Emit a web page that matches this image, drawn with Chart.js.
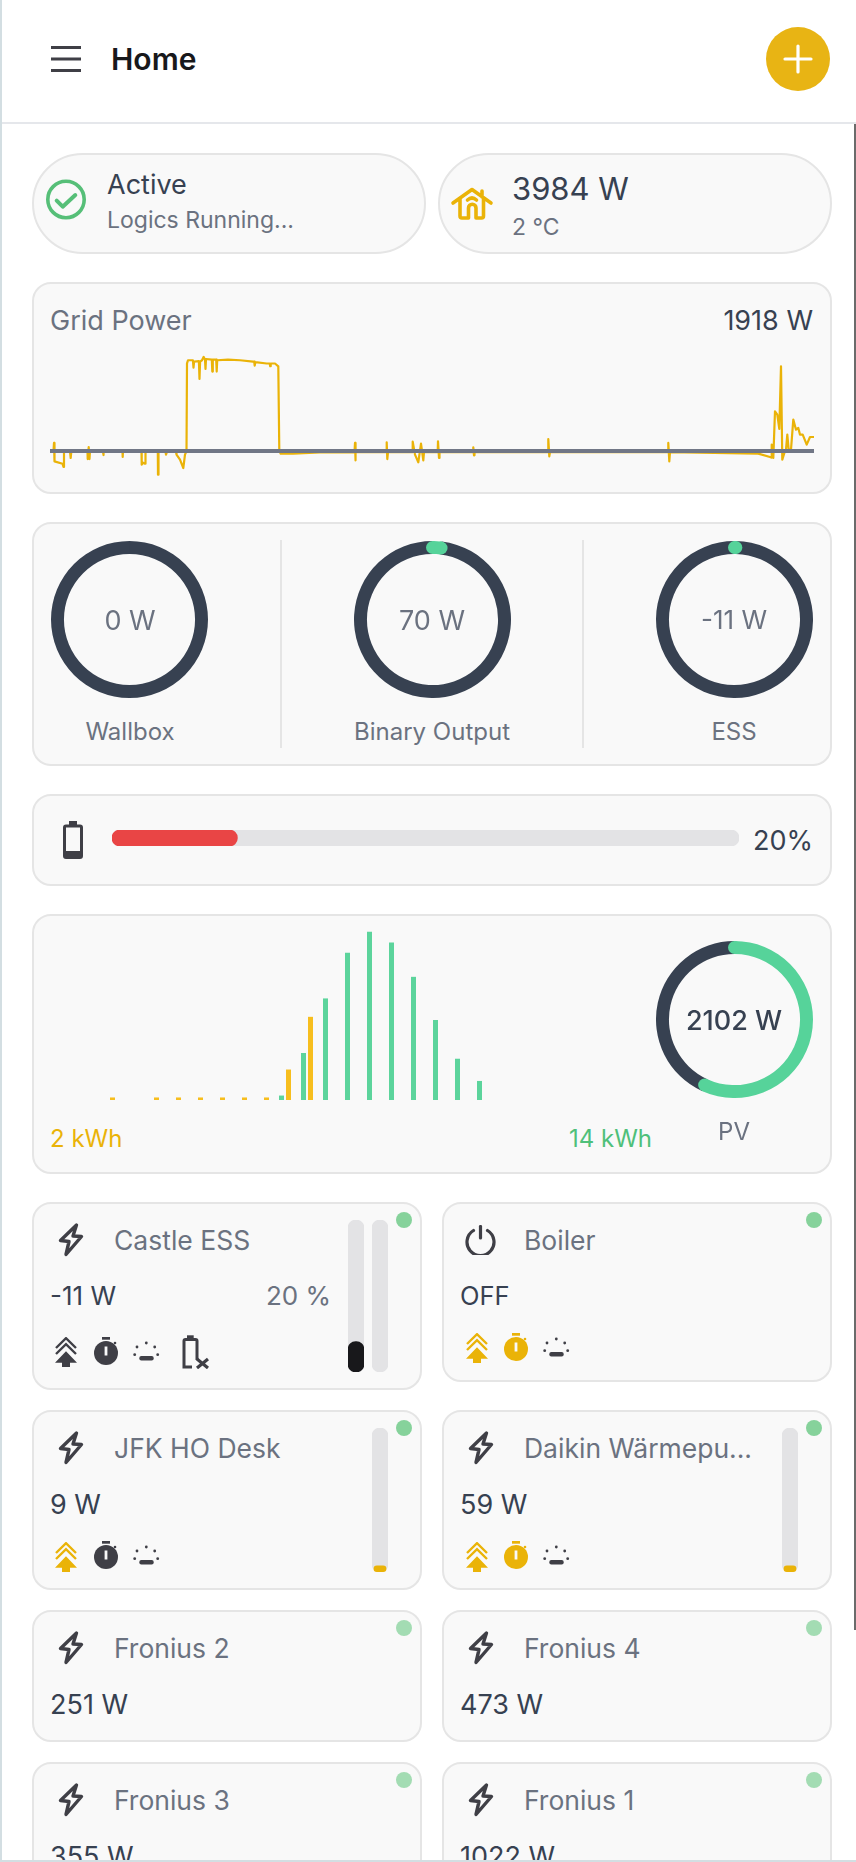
<!DOCTYPE html>
<html>
<head>
<meta charset="utf-8">
<title>Home</title>
<script src="https://cdn.jsdelivr.net/npm/chart.js@4/dist/chart.umd.min.js"></script>
<style>
  html, body { margin: 0; padding: 0; background: #fff; }
  body { width: 856px; height: 1862px; overflow: hidden; position: relative; font-family: Inter, sans-serif; color: #374151; }
  .abs, .card, .txt, canvas, svg.ic { position: absolute; }
  .card { box-sizing: border-box; background: #f9f9f9; border: 2px solid #e5e5e5; border-radius: 19px; }
  .pill { border-radius: 51px; }
  .txt { white-space: nowrap; line-height: 1; transform: translateY(-50%); }
  .mid { transform: translate(-50%, -50%); }
  .right { transform: translate(-100%, -50%); }
  .gray { color: #6b7280; }
  .dot { position: absolute; width: 16px; height: 16px; border-radius: 50%; }
  svg.ic { overflow: visible; }
</style>
</head>
<body>
<svg width="0" height="0" style="position:absolute">
  <symbol id="bolt" viewBox="0 0 26 34"><path d="M18.5 2 L2.5 17.5 L11 18.5 L8 31.5 L23.5 13.5 L15 13 Z" fill="none" stroke="currentColor" stroke-width="3.4" stroke-linejoin="round"/></symbol>
  <symbol id="power" viewBox="0 0 31 30"><path d="M15.5 1.5 V13" fill="none" stroke="currentColor" stroke-width="3.2" stroke-linecap="round"/><path d="M8.5 5.5 A13.5 13.5 0 1 0 22.5 5.5" fill="none" stroke="currentColor" stroke-width="3.2" stroke-linecap="round"/></symbol>
  <symbol id="tree" viewBox="0 0 22 30"><path d="M1 11 L11 1.2 L21 11 M1 17 L11 7.2 L21 17" fill="none" stroke="currentColor" stroke-width="2.4"/><path d="M11 14.3 L22 25.7 H15 V30 H7 V25.7 H0 Z" fill="currentColor"/></symbol>
  <symbol id="watch" viewBox="0 0 24 29"><rect x="8" y="0" width="8" height="2.7" fill="currentColor"/><circle cx="21" cy="6" r="1.3" fill="currentColor"/><circle cx="12" cy="16" r="12" fill="currentColor"/><rect x="10.6" y="9.5" width="2.8" height="9" fill="#f9f9f9"/></symbol>
  <symbol id="dawn" viewBox="0 0 27 20"><rect x="6.3" y="15" width="14.4" height="4.4" rx="2" fill="currentColor"/><g fill="currentColor"><circle cx="13.3" cy="2" r="1.4"/><circle cx="4" cy="6" r="1.4"/><circle cx="21.7" cy="6" r="1.4"/><circle cx="1.7" cy="13.7" r="1.4"/><circle cx="24.7" cy="13.7" r="1.4"/></g></symbol>
  <symbol id="battx" viewBox="0 0 27 34"><path d="M5 0.3 H11.7 V5 H5 Z" fill="currentColor"/><path d="M15 25 V6 A1.5 1.5 0 0 0 13.5 4.5 H3.5 A1.5 1.5 0 0 0 2 6 V32 H10" fill="none" stroke="currentColor" stroke-width="3"/><path d="M15 24 L26 33 M26 24 L15 33" stroke="currentColor" stroke-width="3.2" fill="none"/></symbol>
  <symbol id="batt" viewBox="0 0 20 38"><rect x="6" y="0" width="8" height="5" fill="currentColor"/><rect x="1.5" y="5" width="17" height="31.5" rx="1.5" fill="none" stroke="currentColor" stroke-width="3"/><rect x="1.5" y="30" width="17" height="7" rx="1" fill="currentColor"/></symbol>
</svg>

<!-- page edges -->
<div class="abs" style="left:0;top:0;width:2px;height:1862px;background:#d3dee2"></div>
<div class="abs" style="left:854px;top:123px;width:2px;height:1507px;background:#6b6b6b"></div>
<div class="abs" style="left:2px;top:122px;width:854px;height:2px;background:#e5e7eb"></div>

<!-- header -->
<svg class="ic" style="left:51px;top:45px" width="30" height="28"><path d="M0 2.5 H30 M0 14 H30 M0 25.5 H30" stroke="#3f3f46" stroke-width="2.8"/></svg>
<div class="txt" style="left:111px;top:59px;font-size:30px;font-weight:600;color:#18181b">Home</div>
<div class="abs" style="left:766px;top:27px;width:64px;height:64px;border-radius:50%;background:#e8b414"></div>
<svg class="ic" style="left:785px;top:46px" width="26" height="26"><path d="M13 0 V26 M0 13 H26" stroke="#fff" stroke-width="3.2" stroke-linecap="round"/></svg>

<!-- status pills -->
<div class="card pill" style="left:32px;top:153px;width:394px;height:101px"></div>
<div class="card pill" style="left:438px;top:153px;width:394px;height:101px"></div>
<svg class="ic" style="left:46px;top:180px" width="40" height="40"><circle cx="20" cy="19.5" r="18.2" fill="none" stroke="#56bf78" stroke-width="3.6"/><path d="M10.7 20.7 L16.7 26.7 L29.3 15" fill="none" stroke="#56bf78" stroke-width="4" stroke-linejoin="round" stroke-linecap="round"/></svg>
<div class="txt" style="left:107px;top:184px;font-size:27px;color:#374151">Active</div>
<div class="txt gray" style="left:107px;top:220px;font-size:23px">Logics Running...</div>
<svg class="ic" style="left:451px;top:187px" width="42" height="34"><path d="M2 16 L21 2.5 L40 16 M9 12 V29 Q9 31 11 31 H17.5 V21 A3.7 3.7 0 0 1 25 21 V31 H30.5 Q32.5 31 32.5 29 V12 M31 10 V4 M16.5 13 Q21 9 25.5 13" fill="none" stroke="#eab308" stroke-width="3.6" stroke-linejoin="round" stroke-linecap="round"/></svg>
<div class="txt" style="left:512px;top:188px;font-size:31px">3984 W</div>
<div class="txt gray" style="left:512px;top:227px;font-size:23px">2 °C</div>

<!-- grid power -->
<div class="card" style="left:32px;top:282px;width:800px;height:212px"></div>
<div class="txt gray" style="left:50px;top:320px;font-size:27px">Grid Power</div>
<div class="txt" id="gridNow" style="left:813px;top:320px;font-size:27px;transform:translate(-100%,-50%)"></div>
<canvas id="gridChart" style="left:50px;top:340px;width:764px;height:150px" width="764" height="150"></canvas>

<!-- gauges -->
<div class="card" style="left:32px;top:522px;width:800px;height:244px"></div>
<div class="abs" style="left:280px;top:540px;width:2px;height:208px;background:#e5e5e5"></div>
<div class="abs" style="left:582px;top:540px;width:2px;height:208px;background:#e5e5e5"></div>
<canvas id="gaugeWallbox" style="left:51px;top:541px;width:157px;height:157px" width="157" height="157"></canvas>
<canvas id="gaugeBinary" style="left:354px;top:541px;width:157px;height:157px" width="157" height="157"></canvas>
<canvas id="gaugeEss" style="left:656px;top:541px;width:157px;height:157px" width="157" height="157"></canvas>
<div class="txt gray mid" style="left:130px;top:620px;font-size:27px">0 W</div>
<div class="txt gray mid" style="left:432px;top:620px;font-size:27px">70 W</div>
<div class="txt gray mid" style="left:734px;top:620px;font-size:26px">-11 W</div>
<div class="txt gray mid" style="left:130px;top:732px;font-size:24px">Wallbox</div>
<div class="txt gray mid" style="left:432px;top:732px;font-size:24px">Binary Output</div>
<div class="txt gray mid" style="left:734px;top:732px;font-size:24px">ESS</div>

<!-- battery -->
<div class="card" style="left:32px;top:794px;width:800px;height:92px"></div>
<svg class="ic" style="left:63px;top:821px;color:#3f3f46" width="20" height="38"><use href="#batt"/></svg>
<canvas id="batteryBar" style="left:112px;top:830px;width:627px;height:16px" width="627" height="16"></canvas>
<div class="txt right" style="left:813px;top:840px;font-size:27px">20%</div>

<!-- pv -->
<div class="card" style="left:32px;top:914px;width:800px;height:260px"></div>
<canvas id="pvBars" style="left:98px;top:920px;width:528px;height:180px" width="528" height="180"></canvas>
<canvas id="gaugePv" style="left:656px;top:941px;width:157px;height:157px" width="157" height="157"></canvas>
<div class="txt mid" style="left:734px;top:1020px;font-size:27px;font-weight:500">2102 W</div>
<div class="txt gray mid" style="left:734px;top:1132px;font-size:24px">PV</div>
<div class="txt" style="left:50px;top:1139px;font-size:24px;color:#eab308">2 kWh</div>
<div class="txt" style="left:569px;top:1139px;font-size:24px;color:#4fc07a">14 kWh</div>

<!-- devices -->
<div class="card" style="left:32px;top:1202px;width:390px;height:188px"></div>
<div class="card" style="left:442px;top:1202px;width:390px;height:180px"></div>
<div class="card" style="left:32px;top:1410px;width:390px;height:180px"></div>
<div class="card" style="left:442px;top:1410px;width:390px;height:180px"></div>
<div class="card" style="left:32px;top:1610px;width:390px;height:132px"></div>
<div class="card" style="left:442px;top:1610px;width:390px;height:132px"></div>
<div class="card" style="left:32px;top:1762px;width:390px;height:132px"></div>
<div class="card" style="left:442px;top:1762px;width:390px;height:132px"></div>

<div class="dot" style="left:396px;top:1212px;background:#86d29b"></div>
<div class="dot" style="left:806px;top:1212px;background:#86d29b"></div>
<div class="dot" style="left:396px;top:1420px;background:#86d29b"></div>
<div class="dot" style="left:806px;top:1420px;background:#86d29b"></div>
<div class="dot" style="left:396px;top:1620px;background:#a3dcb3"></div>
<div class="dot" style="left:806px;top:1620px;background:#a3dcb3"></div>
<div class="dot" style="left:396px;top:1772px;background:#a3dcb3"></div>
<div class="dot" style="left:806px;top:1772px;background:#a3dcb3"></div>

<svg class="ic" style="left:58px;top:1223px;color:#3f3f46" width="26" height="34"><use href="#bolt"/></svg>
<svg class="ic" style="left:465px;top:1225px;color:#3f3f46" width="31" height="30"><use href="#power"/></svg>
<svg class="ic" style="left:58px;top:1431px;color:#3f3f46" width="26" height="34"><use href="#bolt"/></svg>
<svg class="ic" style="left:468px;top:1431px;color:#3f3f46" width="26" height="34"><use href="#bolt"/></svg>
<svg class="ic" style="left:58px;top:1631px;color:#3f3f46" width="26" height="34"><use href="#bolt"/></svg>
<svg class="ic" style="left:468px;top:1631px;color:#3f3f46" width="26" height="34"><use href="#bolt"/></svg>
<svg class="ic" style="left:58px;top:1783px;color:#3f3f46" width="26" height="34"><use href="#bolt"/></svg>
<svg class="ic" style="left:468px;top:1783px;color:#3f3f46" width="26" height="34"><use href="#bolt"/></svg>

<div class="txt gray" style="left:114px;top:1240px;font-size:26.5px">Castle ESS</div>
<div class="txt gray" style="left:524px;top:1240px;font-size:26.5px">Boiler</div>
<div class="txt gray" style="left:114px;top:1448px;font-size:26.5px">JFK HO Desk</div>
<div class="txt gray" style="left:524px;top:1448px;font-size:26.5px">Daikin Wärmepu...</div>
<div class="txt gray" style="left:114px;top:1648px;font-size:26.5px">Fronius 2</div>
<div class="txt gray" style="left:524px;top:1648px;font-size:26.5px">Fronius 4</div>
<div class="txt gray" style="left:114px;top:1800px;font-size:26.5px">Fronius 3</div>
<div class="txt gray" style="left:524px;top:1800px;font-size:26.5px">Fronius 1</div>

<div class="txt" style="left:50px;top:1296px;font-size:26px">-11 W</div>
<div class="txt gray right" style="left:331px;top:1296px;font-size:26px">20 %</div>
<div class="txt" style="left:460px;top:1296px;font-size:25.5px">OFF</div>
<div class="txt" style="left:50px;top:1504px;font-size:27px">9 W</div>
<div class="txt" style="left:460px;top:1504px;font-size:27px">59 W</div>
<div class="txt" style="left:50px;top:1704px;font-size:27px">251 W</div>
<div class="txt" style="left:460px;top:1704px;font-size:27px">473 W</div>
<div class="txt" style="left:50px;top:1856px;font-size:27px">355 W</div>
<div class="txt" style="left:460px;top:1856px;font-size:27px">1022 W</div>

<!-- bottom edge, covers the cut off last row -->
<div class="abs" style="left:0;top:1860px;width:856px;height:2px;background:#d3dee2"></div>

<svg class="ic" style="left:55px;top:1337px;color:#3f3f46" width="22" height="30"><use href="#tree"/></svg>
<svg class="ic" style="left:94px;top:1337px;color:#3f3f46" width="24" height="29"><use href="#watch"/></svg>
<svg class="ic" style="left:133px;top:1341px;color:#3f3f46" width="27" height="20"><use href="#dawn"/></svg>
<svg class="ic" style="left:182px;top:1335px;color:#3f3f46" width="27" height="34"><use href="#battx"/></svg>

<svg class="ic" style="left:466px;top:1333px;color:#eab308" width="22" height="30"><use href="#tree"/></svg>
<svg class="ic" style="left:504px;top:1333px;color:#eab308" width="24" height="29"><use href="#watch"/></svg>
<svg class="ic" style="left:543px;top:1337px;color:#3f3f46" width="27" height="20"><use href="#dawn"/></svg>

<svg class="ic" style="left:55px;top:1542px;color:#eab308" width="22" height="30"><use href="#tree"/></svg>
<svg class="ic" style="left:94px;top:1541px;color:#3f3f46" width="24" height="29"><use href="#watch"/></svg>
<svg class="ic" style="left:133px;top:1545px;color:#3f3f46" width="27" height="20"><use href="#dawn"/></svg>

<svg class="ic" style="left:466px;top:1542px;color:#eab308" width="22" height="30"><use href="#tree"/></svg>
<svg class="ic" style="left:504px;top:1541px;color:#eab308" width="24" height="29"><use href="#watch"/></svg>
<svg class="ic" style="left:543px;top:1545px;color:#3f3f46" width="27" height="20"><use href="#dawn"/></svg>

<canvas id="essSoc" style="left:348px;top:1220px;width:16px;height:152px" width="16" height="152"></canvas>
<canvas id="essLoad" style="left:372px;top:1220px;width:16px;height:152px" width="16" height="152"></canvas>
<canvas id="deskLoad" style="left:372px;top:1428px;width:16px;height:144px" width="16" height="144"></canvas>
<canvas id="daikinLoad" style="left:782px;top:1428px;width:16px;height:144px" width="16" height="144"></canvas>

<script>
// grid power trace, slot = about 1.9 min, values in W
const gridSlots = [
  0, 3.5, 4, 4.5, 12.5, 13.5, 14, 20, 20.7, 21.3, 37.5, 37.7, 38.7, 39.5, 40, 53, 53.3, 53.8, 72.5, 72.7, 73,
  91.5, 91.7, 93, 95, 95.5, 107.8, 108, 108.5, 115.5, 116, 117, 126, 126.5, 130, 133.3, 135, 136.5,
  137, 138, 142.9, 143.5, 144.1, 148.9, 149.5, 150.1, 152, 153.7, 155, 155.5, 156, 161.8, 162.3, 162.8,
  166.2, 166.7, 167.2, 178, 190, 203, 204.2, 204.7, 205.3, 216.7, 219.7, 220.2, 220.7, 225, 228.3,
  229.3, 230.7, 243, 270, 304.5, 305, 305.3, 305.8,
  336.5, 336.7, 337.3, 338, 362.5, 362.7, 365, 368.3, 371, 373.3, 374, 387.7, 388, 389, 389.5,
  423, 423.3, 424, 424.5, 498, 498.3, 499.3, 500, 618, 618.3, 619.3, 620, 708.3, 720, 721.3, 721.7, 723.3,
  725, 727.3, 729.3, 731, 732.3, 735, 736, 737.3, 738.7, 741, 743.3, 746, 748.3, 750, 752.7, 756.7, 760, 764
];
const gridWatts = [
  0, 0, 1100, -1420, -1740, -2190, 0, -100, -960, -100, 0, -1100, 550, -1100, 0, -100, -550, -100, 0, -820, 0,
  -100, -1870, -1600, -1740, 0, 0, -3250, 0, -100, -500, -100, -100, -500, -1190, -2330, -500, 0,
  12000, 12430, 12430, 11400, 12250, 12300, 9870, 12250, 12430, 12890, 12500, 11240, 12600, 12520, 10880, 12520,
  12520, 10880, 12430, 12520, 12430, 12250, 12250, 11700, 12160, 11980, 11980, 11610, 11980, 11980, 11600,
  0, -365, -365, -200, -200, 1100, -1280, -150,
  -150, 1190, -1100, -150, -150, 1280, -500, -1550, 1000, -1280, -150, -150, 1330, -960, -150,
  -150, 500, -590, -150, -150, 1645, -730, -150, -150, 1100, -1420, -150, -365, -820, -900, 870, -950,
  5440, 4980, 3020, 11600, -1190, 0, 180, 2240, 180, 180, 4300, 2920, 3150, 2240, 2240, 870, 1920, 1918
];
const gridNow = 1918;

// pv per hour, kWh
const pvHours = ['0','1','2','3','4','5','6','7','8','9','10','11','12','13','14','15','16','17','18','19','20','21','22','23'];
const pvGreen = [0, 0, 0, 0, 0, 0, 0, 0, 0.07, 0.74, 1.6, 2.32, 2.65, 2.48, 1.94, 1.26, 0.65, 0.3, 0, 0, 0, 0, 0, 0];
const pvYellow = [0.04, 0, 0.04, 0.04, 0.04, 0.04, 0.04, 0.04, 0.48, 1.31, 0, 0, 0, 0, 0, 0, 0, 0, 0, 0, 0, 0, 0, 0];

// gauges, W
const gaugeMax = 3680;
const wallboxPower = 0;
const binaryPower = 70;
const essPower = 11;
const pvPower = 2102;
const pvMax = 3700;

// levels, %
const batteryLevel = 20;
const essSocLevel = 20;
const essLoadLevel = 0;
const deskLevel = 4.5;
const daikinLevel = 4.5;

const RING = '#374151';
const GREEN = '#56d39a';
const YELLOW = '#eab308';
const TRACK = '#e3e3e5';

document.getElementById('gridNow').textContent = gridNow + ' W';

const noPlugins = { legend: { display: false }, tooltip: { enabled: false } };

new Chart(document.getElementById('gridChart'), {
    type: 'line',
    data: {
        datasets: [{
            data: gridSlots.map((s, i) => ({ x: s, y: gridWatts[i] })),
            borderColor: YELLOW,
            borderWidth: 2.2,
            borderJoinStyle: 'round',
            pointRadius: 0,
            tension: 0,
            order: 2
        }, {
            data: [{ x: 0, y: 0 }, { x: 764, y: 0 }],
            borderColor: '#717786',
            borderWidth: 4,
            pointRadius: 0,
            order: 1
        }]
    },
    options: {
        responsive: false,
        animation: false,
        plugins: noPlugins,
        scales: {
            x: { type: 'linear', display: false, min: 0, max: 764 },
            y: { display: false, min: -5340, max: 15200 }
        }
    }
});

new Chart(document.getElementById('pvBars'), {
    type: 'bar',
    data: {
        labels: pvHours,
        datasets: [
            { data: pvGreen, backgroundColor: '#5cd49c', barPercentage: 0.714, categoryPercentage: 0.636 },
            { data: pvYellow, backgroundColor: '#f7be1e', barPercentage: 0.714, categoryPercentage: 0.636 }
        ]
    },
    options: {
        responsive: false,
        animation: false,
        plugins: noPlugins,
        scales: {
            x: { display: false },
            y: { display: false, min: 0, max: 2.835 }
        }
    }
});

// rounded ends of the value arc, they stick out past the arc like stroke caps
const roundCaps = {
    id: 'roundCaps',
    afterDatasetsDraw(chart) {
        const arc = chart.getDatasetMeta(0).data[0];
        if (!chart.data.datasets[0].data[0]) return;
        const ctx = chart.ctx;
        const r = (arc.innerRadius + arc.outerRadius) / 2;
        const w = (arc.outerRadius - arc.innerRadius) / 2;
        ctx.save();
        ctx.fillStyle = arc.options.backgroundColor;
        [arc.startAngle, arc.endAngle].forEach(a => {
            ctx.beginPath();
            ctx.arc(arc.x + Math.cos(a) * r, arc.y + Math.sin(a) * r, w, 0, Math.PI * 2);
            ctx.fill();
        });
        ctx.restore();
    }
};

function gauge(id, value, max) {
    new Chart(document.getElementById(id), {
        type: 'doughnut',
        data: {
            datasets: [{
                data: [value, max - value],
                backgroundColor: [GREEN, RING],
                borderWidth: 0
            }]
        },
        options: {
            responsive: false,
            animation: false,
            cutout: '83.5%',
            plugins: noPlugins
        },
        plugins: [roundCaps]
    });
}

gauge('gaugeWallbox', wallboxPower, gaugeMax);
gauge('gaugeBinary', binaryPower, gaugeMax);
gauge('gaugeEss', essPower, gaugeMax);
gauge('gaugePv', pvPower, pvMax);

function levelBar(id, value, color, axis, fillWidth) {
    new Chart(document.getElementById(id), {
        type: 'bar',
        data: {
            labels: ['level'],
            datasets: [
                { data: [value || null], backgroundColor: color, barPercentage: fillWidth },
                { data: [100], backgroundColor: TRACK }
            ]
        },
        options: {
            indexAxis: axis,
            responsive: false,
            animation: false,
            plugins: noPlugins,
            datasets: { bar: { grouped: false, barPercentage: 1, categoryPercentage: 1, borderRadius: 8, borderSkipped: false } },
            scales: {
                x: axis === 'y' ? { display: false, min: 0, max: 100 } : { display: false },
                y: axis === 'y' ? { display: false } : { display: false, min: 0, max: 100 }
            }
        }
    });
}

levelBar('batteryBar', batteryLevel, '#e94545', 'y', 1);
levelBar('essSoc', essSocLevel, '#18181b', 'x', 1);
levelBar('essLoad', essLoadLevel, '#18181b', 'x', 1);
levelBar('deskLoad', deskLevel, YELLOW, 'x', 0.8);
levelBar('daikinLoad', daikinLevel, YELLOW, 'x', 0.8);
</script>
</body>
</html>
